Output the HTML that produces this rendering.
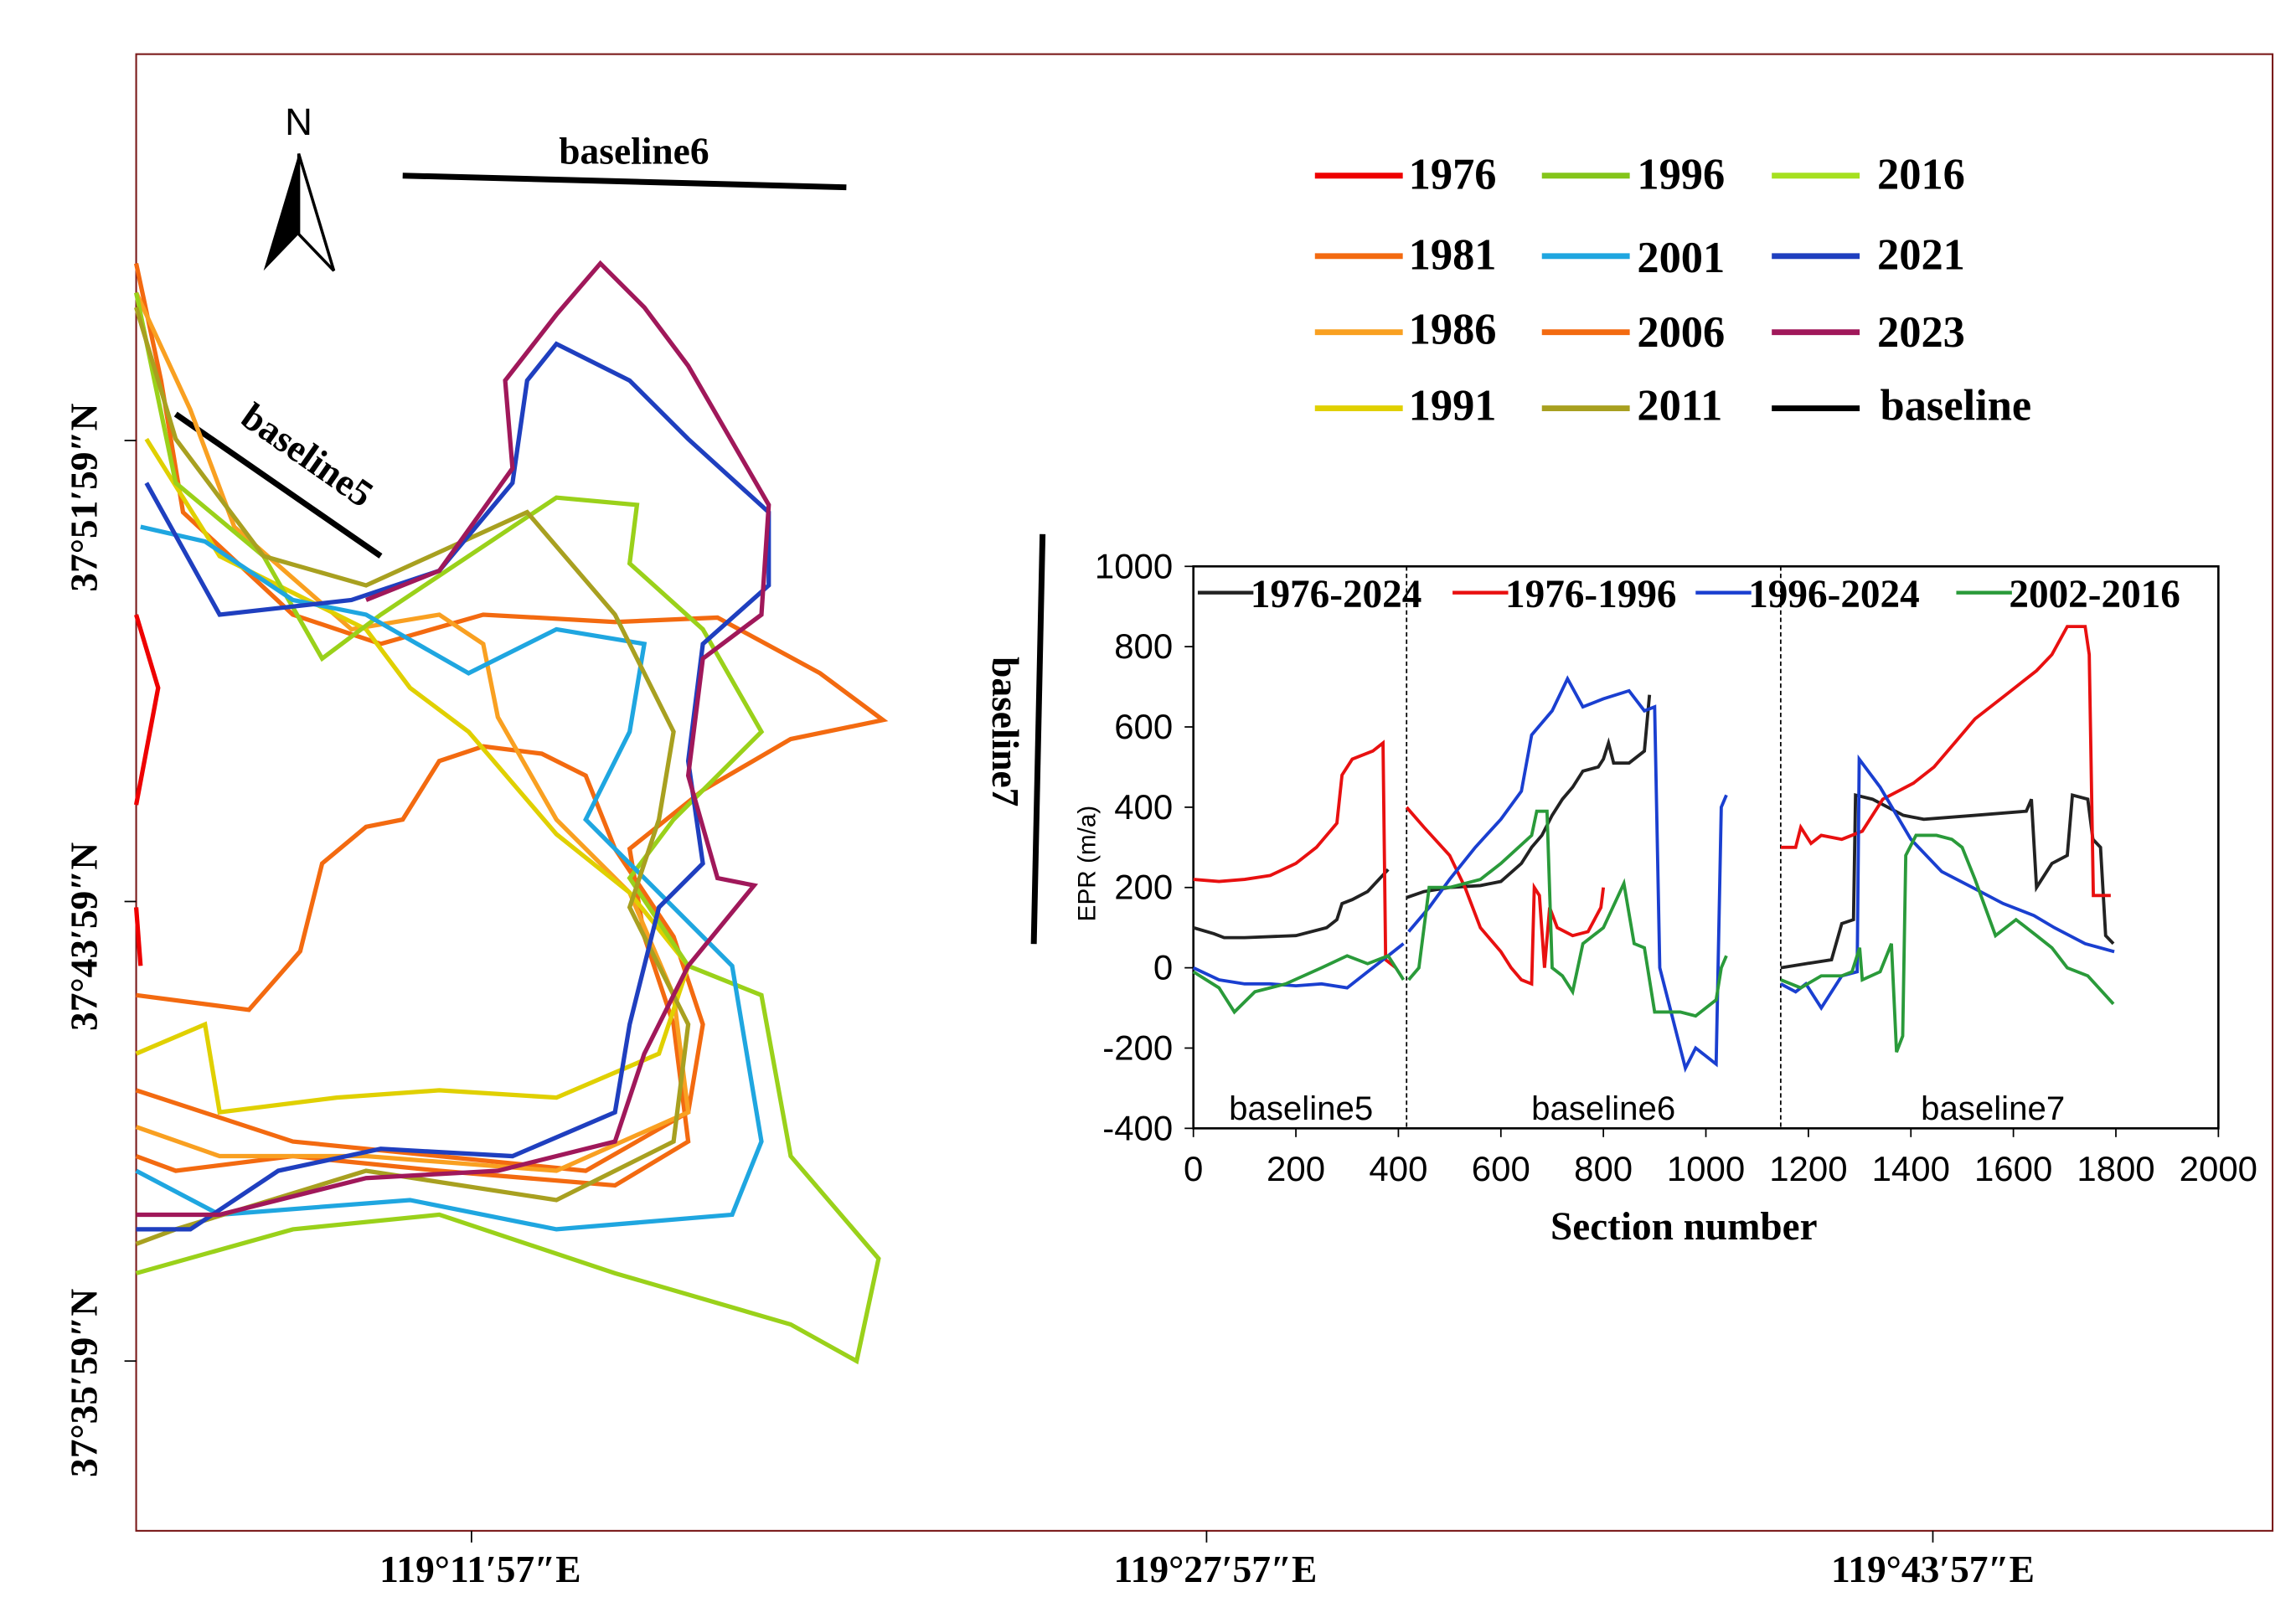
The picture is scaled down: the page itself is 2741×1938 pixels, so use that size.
<!DOCTYPE html>
<html><head><meta charset="utf-8"><style>
html,body{margin:0;padding:0;background:#fff}
svg{display:block}
text{font-family:"Liberation Serif",serif;font-weight:bold}
text.sans{font-family:"Liberation Sans",sans-serif;font-weight:normal}
</style></head><body>
<svg id="root" width="2741" height="1938" viewBox="0 0 1568 1109" preserveAspectRatio="none" xmlns="http://www.w3.org/2000/svg">
<rect width="1568" height="1109" fill="#fff"/>
<rect x="93" y="37" width="1459" height="1009" fill="none" stroke="#7a1a1a" stroke-width="1.2"/>
<g font-size="26">
<line x1="85" y1="301" x2="93" y2="301" stroke="#000"/><line x1="85" y1="616" x2="93" y2="616" stroke="#000"/><line x1="85" y1="930" x2="93" y2="930" stroke="#000"/>
<text transform="translate(66,340) rotate(-90)" text-anchor="middle">37°51′59″N</text>
<text transform="translate(66,640) rotate(-90)" text-anchor="middle">37°43′59″N</text>
<text transform="translate(66,945) rotate(-90)" text-anchor="middle">37°35′59″N</text>
</g>
<g font-size="26">
<line x1="322" y1="1046" x2="322" y2="1054" stroke="#000"/><line x1="824" y1="1046" x2="824" y2="1054" stroke="#000"/><line x1="1320" y1="1046" x2="1320" y2="1054" stroke="#000"/>
<text x="328" y="1081" text-anchor="middle">119°11′57″E</text>
<text x="830" y="1081" text-anchor="middle">119°27′57″E</text>
<text x="1320" y="1081" text-anchor="middle">119°43′57″E</text>
</g>
<g>
<text x="204" y="92" font-size="26" text-anchor="middle" class="sans">N</text>
<polygon points="204,105 180,185 204,160" fill="#000"/><polygon points="204,105 228,185 204,160" fill="#fff" stroke="#000" stroke-width="2"/>
</g>
<g>
<line x1="275" y1="120" x2="578" y2="128" stroke="#000" stroke-width="4"/>
<text x="433" y="112" font-size="26" text-anchor="middle">baseline6</text>
<line x1="120" y1="283" x2="260" y2="380" stroke="#000" stroke-width="4"/>
<text transform="translate(205,318) rotate(35)" font-size="26" text-anchor="middle">baseline5</text>
<line x1="712" y1="365" x2="706" y2="645" stroke="#000" stroke-width="4"/>
<text transform="translate(678,500) rotate(90)" font-size="26" text-anchor="middle">baseline7</text>
</g>
<g fill="none" stroke-width="3">
<path d="M93,420 L108,470 L93,550 M93,620 L96,660" stroke="#e00"/>
<path d="M93,180 L110,260 L125,350 L200,420 L260,440 L330,420 L420,425 L490,422 L560,460 L603,492 L540,505 L480,540 L430,580 L440,640 L460,700 L470,780 L420,810 L300,800 L200,790 L120,800 L93,790" stroke="#f36a10"/>
<path d="M93,680 L170,690 L205,650 L220,590 L250,565 L275,560 L300,520 L330,510 L370,515 L400,530 L420,580 L460,640 L480,700 L470,760 L400,800 L300,790 L200,780 L93,745" stroke="#f36a10"/>
<path d="M93,200 L130,280 L160,360 L240,430 L300,420 L330,440 L340,490 L380,560 L430,610 L460,680 L470,760 L380,800 L250,790 L150,790 L93,770" stroke="#f9a021"/>
<path d="M93,720 L140,700 L150,760 L230,750 L300,745 L380,750 L450,720 L470,660 L430,610 L380,570 L320,500 L280,470 L250,430 L150,380 L100,300" stroke="#e0d000"/>
<path d="M93,200 L120,330 L180,380 L220,450 L260,420 L380,340 L435,345 L430,385 L480,430 L520,500 L460,560 L430,600 L470,660 L520,680 L540,790 L600,860 L585,930 L540,905 L420,870 L300,830 L200,840 L93,870" stroke="#9ad11a"/>
<path d="M96,360 L140,370 L200,410 L250,420 L320,460 L380,430 L440,440 L430,500 L400,560 L440,600 L500,660 L520,780 L500,830 L380,840 L280,820 L150,830 L93,800" stroke="#1fa6e0"/>
<path d="M93,210 L120,300 L180,380 L250,400 L360,350 L420,420 L460,500 L450,560 L430,620 L470,700 L460,780 L380,820 L250,800 L120,840 L93,850" stroke="#a8a020"/>
<path d="M100,330 L150,420 L240,410 L300,390 L350,330 L360,260 L380,235 L430,260 L470,300 L525,350 L525,400 L480,440 L470,520 L480,590 L450,620 L430,700 L420,760 L350,790 L260,785 L190,800 L130,840 L93,840" stroke="#1f3fbf"/>
<path d="M250,410 L300,390 L350,320 L345,260 L380,215 L410,180 L440,210 L470,250 L525,345 L520,420 L480,450 L470,530 L490,600 L515,605 L470,660 L440,720 L420,780 L340,800 L250,805 L150,830 L93,830" stroke="#a0185a"/>
</g>
<g font-size="30">
<line x1="898" y1="120" x2="958" y2="120" stroke="#e00" stroke-width="4"/><text x="962" y="129">1976</text>
<line x1="1053" y1="120" x2="1113" y2="120" stroke="#84c51a" stroke-width="4"/><text x="1118" y="129">1996</text>
<line x1="1210" y1="120" x2="1270" y2="120" stroke="#a6e020" stroke-width="4"/><text x="1282" y="129">2016</text>
<line x1="898" y1="175" x2="958" y2="175" stroke="#f36a10" stroke-width="4"/><text x="962" y="184">1981</text>
<line x1="1053" y1="175" x2="1113" y2="175" stroke="#1fa6e0" stroke-width="4"/><text x="1118" y="186">2001</text>
<line x1="1210" y1="175" x2="1270" y2="175" stroke="#1f3fbf" stroke-width="4"/><text x="1282" y="184">2021</text>
<line x1="898" y1="227" x2="958" y2="227" stroke="#f9a021" stroke-width="4"/><text x="962" y="235">1986</text>
<line x1="1053" y1="227" x2="1113" y2="227" stroke="#f36a10" stroke-width="4"/><text x="1118" y="237">2006</text>
<line x1="1210" y1="227" x2="1270" y2="227" stroke="#a0185a" stroke-width="4"/><text x="1282" y="237">2023</text>
<line x1="898" y1="279" x2="958" y2="279" stroke="#e0d000" stroke-width="4"/><text x="962" y="287">1991</text>
<line x1="1053" y1="279" x2="1113" y2="279" stroke="#a8a020" stroke-width="4"/><text x="1118" y="287">2011</text>
<line x1="1210" y1="279" x2="1270" y2="279" stroke="#000" stroke-width="4"/><text x="1284" y="287">baseline</text>
</g>
<g id="chart"></g>
</svg>
<script>
const xTicks=[0,200,400,600,800,1000,1200,1400,1600,1800,2000];
const yTicks=[-400,-200,0,200,400,600,800,1000];
const dividers=[416,1146];
const sectionLabels=["baseline5","baseline6","baseline7"];
const sectionLabelX=[210,800,1560];
const seriesNames=["1976-2024","1976-1996","1996-2024","2002-2016"];
const s1976_2024=[[0,100],[40,85],[60,75],[100,75],[200,80],[260,100],[280,120],[290,160],[310,170],[340,190],[380,245],null,[416,175],[450,190],[500,200],[560,205],[600,215],[640,260],[660,300],[680,330],[700,380],[720,420],[740,450],[760,490],[790,500],[800,520],[810,560],[820,510],[850,510],[880,540],[890,680],null,[1146,0],[1195,10],[1245,20],[1265,110],[1288,120],[1292,430],[1325,420],[1385,380],[1425,370],[1525,380],[1625,390],[1635,420],[1645,200],[1675,260],[1705,280],[1715,430],[1745,420],[1755,320],[1770,300],[1780,80],[1795,60]];
const s1976_1996=[[0,220],[50,215],[100,220],[150,230],[200,260],[240,300],[280,360],[290,480],[310,520],[350,540],[370,560],[375,20],[395,0],null,[416,400],[450,350],[500,280],[530,200],[560,100],[600,40],[620,0],[640,-30],[660,-40],[665,200],[675,180],[685,0],[695,150],[710,100],[740,80],[770,90],[795,150],[800,200],null,[1146,300],[1175,300],[1185,350],[1205,310],[1225,330],[1265,320],[1305,340],[1345,420],[1405,460],[1445,500],[1485,560],[1525,620],[1585,680],[1645,740],[1675,780],[1705,850],[1740,850],[1748,780],[1756,180],[1790,180]];
const s1996_2024=[[0,0],[50,-30],[100,-40],[150,-40],[200,-45],[250,-40],[300,-50],[340,-10],[380,30],[410,60],null,[420,90],[460,150],[500,220],[550,300],[600,370],[640,440],[660,580],[700,640],[730,720],[760,650],[800,670],[850,690],[880,640],[900,650],[910,0],[930,-100],[960,-250],[980,-200],[1020,-240],[1030,400],[1040,430],null,[1146,-40],[1175,-60],[1195,-40],[1225,-100],[1265,-20],[1295,-10],[1299,520],[1340,450],[1400,320],[1460,240],[1520,200],[1580,160],[1640,130],[1680,100],[1740,60],[1797,40]];
const s2002_2016=[[0,-10],[50,-50],[80,-110],[120,-60],[180,-40],[250,0],[300,30],[340,10],[380,30],[410,-30],null,[420,-30],[440,0],[460,200],[500,200],[560,220],[600,260],[660,330],[670,390],[690,390],[700,0],[720,-20],[740,-60],[760,60],[800,100],[840,210],[860,60],[880,50],[900,-110],[950,-110],[980,-120],[1020,-80],[1030,0],[1040,30],null,[1146,-30],[1185,-50],[1225,-20],[1265,-20],[1285,-10],[1300,50],[1305,-30],[1340,-10],[1362,60],[1372,-210],[1384,-170],[1390,280],[1410,330],[1450,330],[1480,320],[1500,300],[1525,220],[1565,80],[1605,120],[1645,80],[1675,50],[1705,0],[1745,-20],[1795,-90]];
const seriesData=[s1976_2024,s1976_1996,s1996_2024,s2002_2016];
const colors=["#222","#e81010","#1a3fd0","#2a9a3a"];
const X0=815,X1=1515,Y0=771,Y1=387;
const xs=v=>X0+(v-0)/(2000-0)*(X1-X0);
const ys=v=>Y0-(v+400)/1400*(Y0-Y1);
const NS="http://www.w3.org/2000/svg";
const g=document.getElementById('chart');
function mk(t,a){const e=document.createElementNS(NS,t);for(const k in a)e.setAttribute(k,a[k]);g.appendChild(e);return e;}
const frame=mk('rect',{x:X0,y:Y1,width:X1-X0,height:Y0-Y1,fill:'none',stroke:'#000','stroke-width':1.5});


dividers.forEach(d=>{const l=mk('line',{x1:xs(d),x2:xs(d),y1:Y1,y2:Y0,stroke:'#000','stroke-dasharray':'3,2'});

});
xTicks.forEach(t=>{mk('line',{x1:xs(t),x2:xs(t),y1:Y0,y2:Y0+6,stroke:'#000'});
const tx=mk('text',{x:xs(t),y:Y0+36,'font-size':24,'class':'sans','text-anchor':'middle'});tx.textContent=t;

});
yTicks.forEach(t=>{mk('line',{x1:X0-6,x2:X0,y1:ys(t),y2:ys(t),stroke:'#000'});
const tx=mk('text',{x:X0-14,y:ys(t)+8,'font-size':24,'class':'sans','text-anchor':'end'});tx.textContent=t;

});
const xt=mk('text',{x:1150,y:847,'font-size':27,'text-anchor':'middle'});xt.textContent='Section number';


const yt=mk('text',{transform:'translate(748,590) rotate(-90)','font-size':17,'class':'sans','text-anchor':'middle'});yt.textContent='EPR  (m/a)';


sectionLabels.forEach((s,i)=>{const t=mk('text',{x:xs(sectionLabelX[i]),y:765,'font-size':23,'class':'sans','text-anchor':'middle'});t.textContent=s;

});
seriesData.forEach((s,i)=>{let d='',pen=false;s.forEach(p=>{if(!p){pen=false;return;}d+=(pen?'L':'M')+xs(p[0]).toFixed(1)+','+ys(p[1]).toFixed(1);pen=true;});
const pth=mk('path',{d:d,fill:'none',stroke:colors[i],'stroke-width':2.2});

});
const legX=[818,992,1158,1336];
seriesNames.forEach((n,i)=>{const l=mk('line',{x1:legX[i],x2:legX[i]+38,y1:405,y2:405,stroke:colors[i],'stroke-width':2.5});


const t=mk('text',{x:legX[i]+36,y:415,'font-size':27});t.textContent=n;

});
</script>
</body></html>
